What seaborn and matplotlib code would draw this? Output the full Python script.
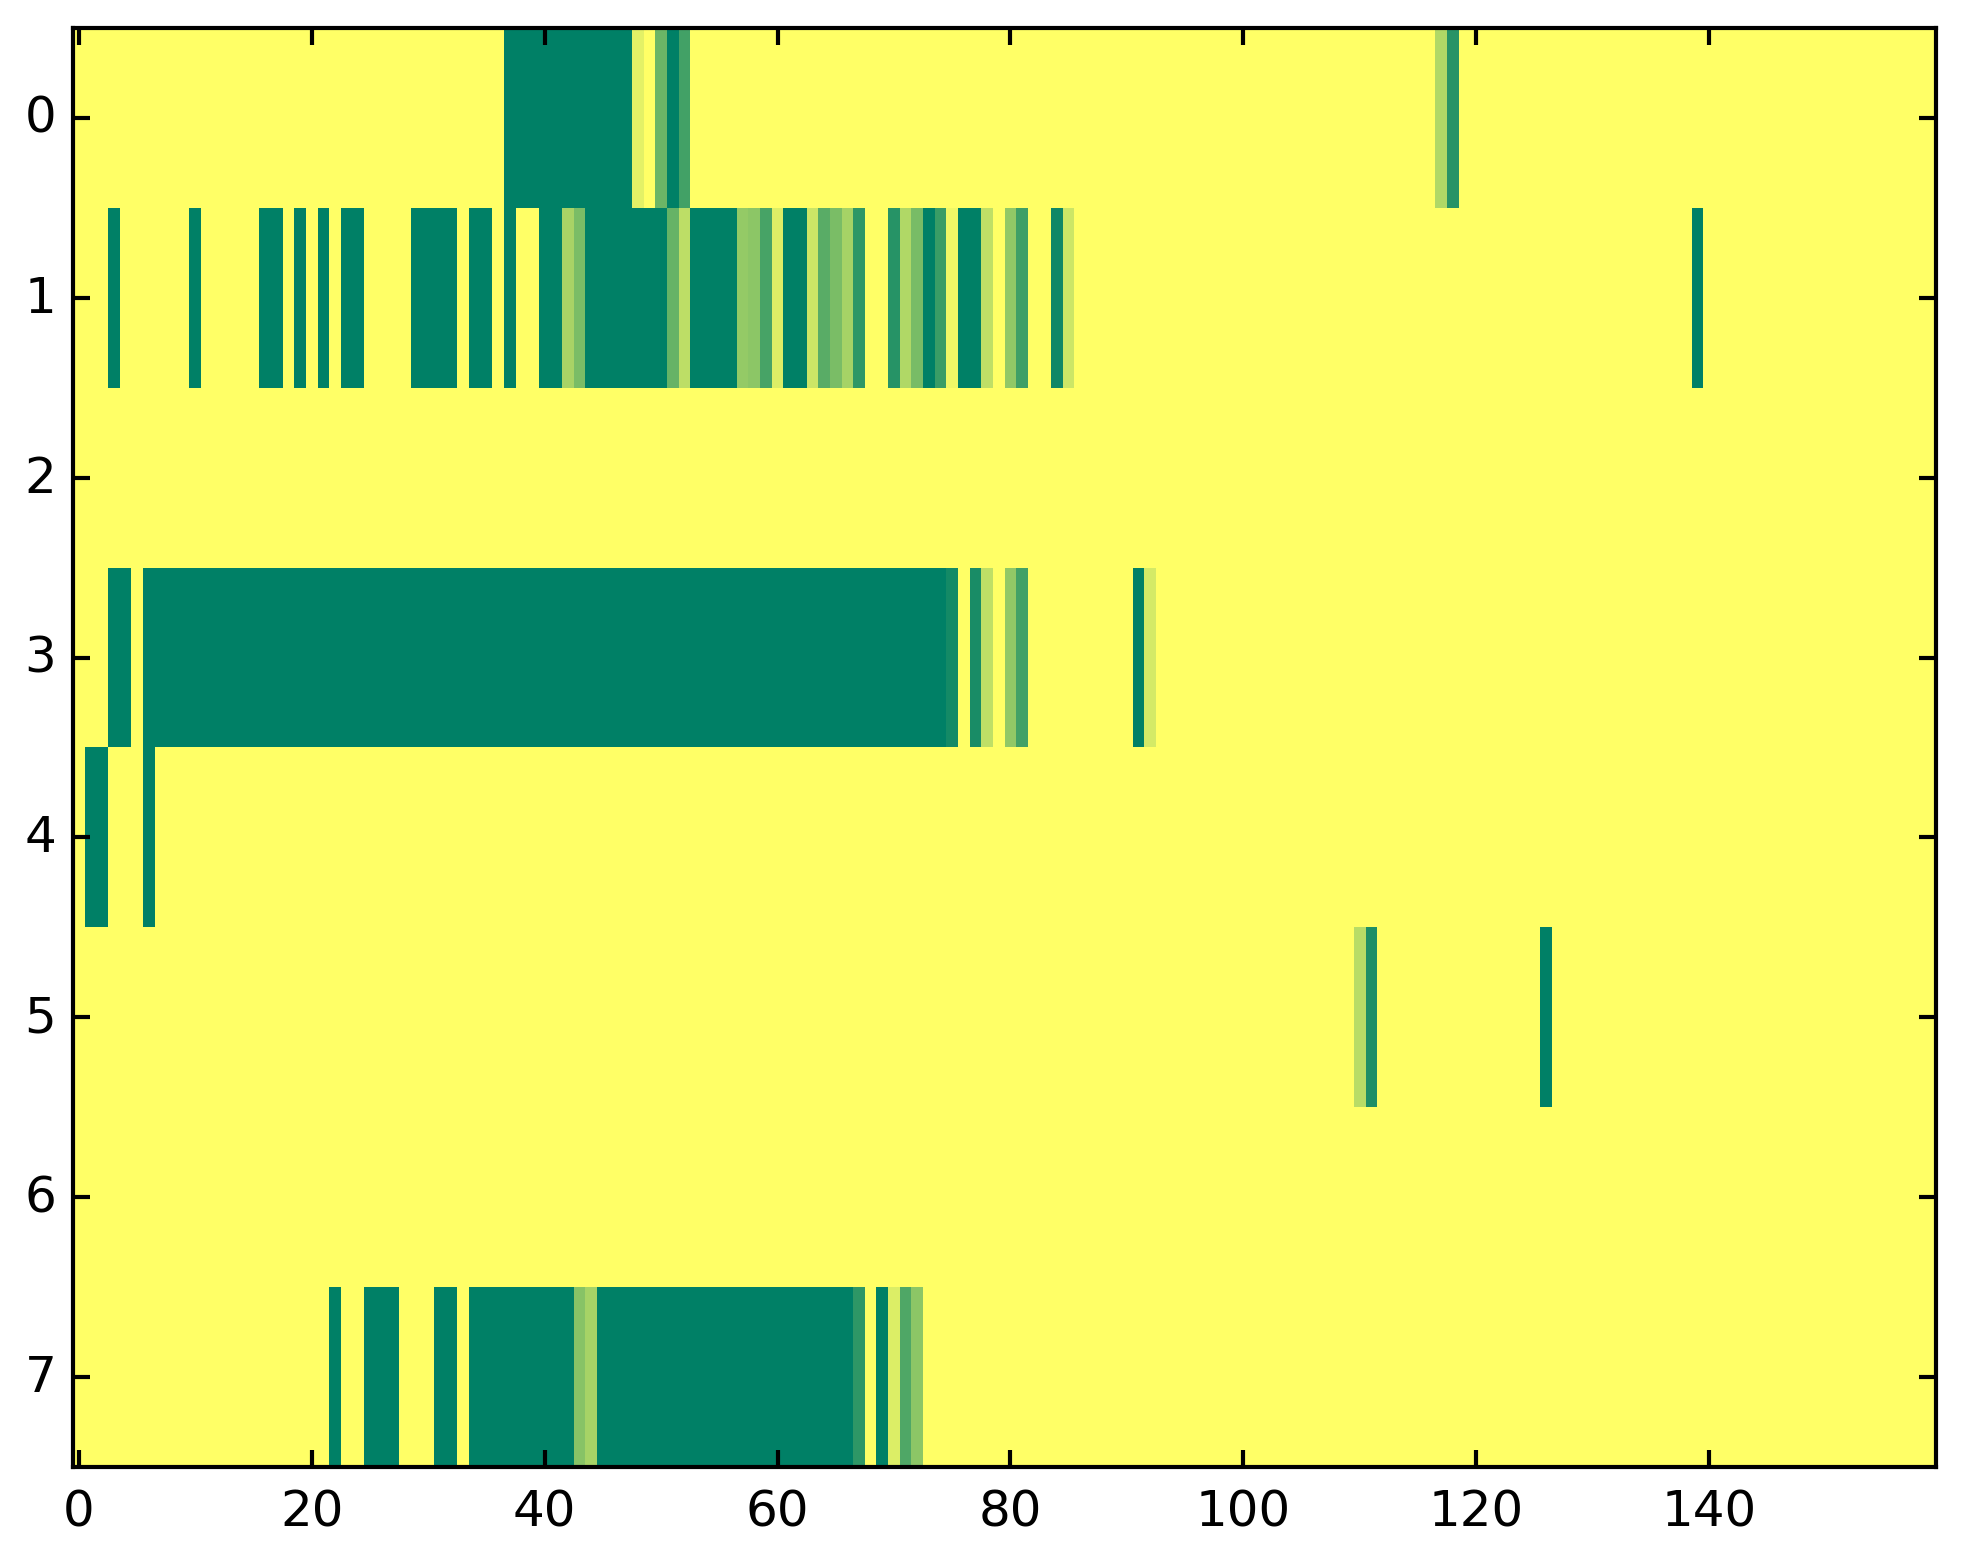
import numpy as np
import pandas as pd
import seaborn as sns
import matplotlib.pyplot as plt

# Valores: (coluna inicial, coluna final, valor) por linha
n_linhas = 8
n_colunas = 160

linha_0 = [(37, 47, 1.0), (48, 48, 0.11), (50, 50, 0.58), (51, 51, 1.0), (52, 52, 0.74),
           (117, 117, 0.31), (118, 118, 0.84)]
linha_1 = [(3, 3, 1.0), (10, 10, 1.0), (16, 17, 1.0), (19, 19, 1.0), (21, 21, 1.0),
           (23, 24, 1.0), (29, 32, 1.0), (34, 35, 1.0), (37, 37, 1.0), (40, 41, 1.0),
           (42, 42, 0.34), (43, 43, 0.52), (44, 50, 1.0), (51, 51, 0.6), (52, 52, 0.26),
           (53, 56, 1.0), (57, 57, 0.42), (58, 58, 0.45), (59, 59, 0.72), (60, 60, 0.14),
           (61, 62, 1.0), (63, 63, 0.2), (64, 64, 0.65), (65, 65, 0.52), (66, 66, 0.35),
           (67, 67, 0.82), (70, 70, 0.85), (71, 71, 0.31), (72, 72, 0.53), (73, 73, 1.0),
           (74, 74, 0.77), (75, 75, 0.06), (76, 77, 1.0), (78, 78, 0.25), (80, 80, 0.43),
           (81, 81, 0.75), (84, 84, 0.94), (85, 85, 0.2), (139, 139, 1.0)]
linha_2 = []
linha_3 = [(3, 4, 1.0), (6, 74, 1.0), (75, 75, 0.92), (77, 77, 0.9), (78, 78, 0.25),
           (80, 80, 0.43), (81, 81, 0.74), (91, 91, 1.0), (92, 92, 0.17)]
linha_4 = [(1, 2, 1.0), (6, 6, 1.0)]
linha_5 = [(110, 110, 0.28), (111, 111, 0.88), (126, 126, 1.0)]
linha_6 = []
linha_7 = [(22, 22, 1.0), (25, 27, 1.0), (31, 32, 1.0), (34, 42, 1.0), (43, 43, 0.47),
           (44, 44, 0.35), (45, 66, 1.0), (67, 67, 0.82), (69, 69, 1.0), (70, 70, 0.14),
           (71, 71, 0.69), (72, 72, 0.45)]

linhas = [linha_0, linha_1, linha_2, linha_3, linha_4, linha_5, linha_6, linha_7]

x_ticks = [0, 20, 40, 60, 80, 100, 120, 140]
y_ticks = list(range(n_linhas))

# Matriz a partir dos trechos
matriz = np.zeros((n_linhas, n_colunas))
for i, trechos in enumerate(linhas):
    for ini, fim, val in trechos:
        matriz[i, ini:fim + 1] = val
df = pd.DataFrame(matriz)

plt.style.use("classic")
fig = plt.figure(figsize=(1963 / 300, 1564 / 300), dpi=300)
ax = fig.add_axes([0.0372, 0.0614, 0.9491, 0.9201])

sns.heatmap(df, cmap="summer_r", vmin=0, vmax=1, cbar=False, ax=ax,
            xticklabels=False, yticklabels=False, linewidths=0)

ax.set_xticks(np.array(x_ticks) + 0.5)
ax.set_xticklabels([str(t) for t in x_ticks], rotation=0)
ax.set_yticks(np.array(y_ticks) + 0.5)
ax.set_yticklabels([str(t) for t in y_ticks], rotation=0)
ax.set_xlabel("")
ax.set_ylabel("")

for s in ax.spines.values():
    s.set_visible(True)
    s.set_color("black")
    s.set_linewidth(1.0)

ax.tick_params(direction="in", top=True, right=True, length=4, width=1,
               labelsize=12, colors="black")
ax.tick_params(axis="x", pad=5)

fig.savefig("out.png", dpi=300)
